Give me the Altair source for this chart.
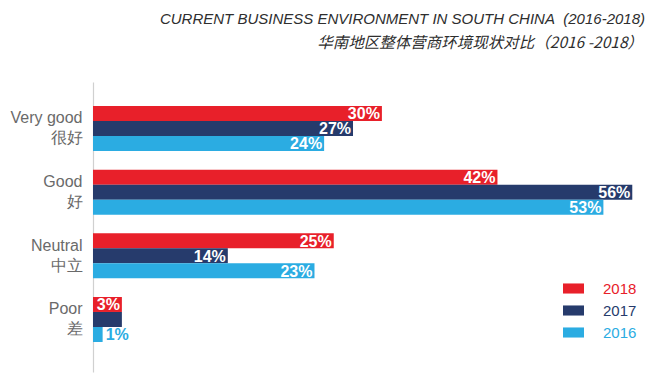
import altair as alt
import pandas as pd

categories = ["Very good|很好", "Good|好", "Neutral|中立", "Poor|差"]
years = ["2018", "2017", "2016"]
v2018 = [30, 42, 25, 3]
v2017 = [27, 56, 14, 3]
v2016 = [24, 53, 23, 1]
hidden_labels = [("Poor|差", "2017")]

title_en = "CURRENT BUSINESS ENVIRONMENT IN SOUTH CHINA\u00a0\u00a0(2016-2018)"
title_cn = "华南地区整体营商环境现状对比（2016 -2018）"

colors = ["#E8202A", "#263B6C", "#2BACE2"]

rows = []
for year, vals in zip(years, [v2018, v2017, v2016]):
    for cat, v in zip(categories, vals):
        rows.append({
            "category": cat,
            "year": year,
            "value": v,
            "label": f"{v}%",
            "show": (cat, year) not in hidden_labels,
        })
df = pd.DataFrame(rows)

FONT = "Liberation Sans"

y_enc = alt.Y(
    "category:N",
    sort=categories,
    scale=alt.Scale(paddingInner=0.293, paddingOuter=0.424, align=0.444),
    axis=alt.Axis(
        title=None,
        ticks=False,
        labelExpr="split(datum.label, '|')",
        labelLineHeight=20,
        labelFontSize=16,
        labelColor="#6a6a6a",
        labelFont=FONT,
        labelPadding=11,
        labelOffset=-10,
        domainColor="#d0d0d0",
        domainWidth=1.2,
        grid=False,
    ),
)
yoff = alt.YOffset("year:N", sort=years, scale=alt.Scale(paddingInner=0, paddingOuter=0))
x_enc = alt.X("value:Q", scale=alt.Scale(domain=[0, 57.84], nice=False, zero=True), axis=None)

label_color_expr = (
    "datum.label == '2018' ? '" + colors[0] + "' : datum.label == '2017' ? '"
    + colors[1] + "' : '" + colors[2] + "'"
)

base = alt.Chart(df)

bars = base.mark_bar(size=15).encode(
    x=x_enc,
    y=y_enc,
    yOffset=yoff,
    color=alt.Color(
        "year:N",
        sort=years,
        scale=alt.Scale(domain=years, range=colors),
        legend=alt.Legend(
            title=None,
            orient="none",
            legendX=470,
            legendY=196,
            symbolType="M-1,-0.48H1V0.48H-1Z",
            symbolSize=441,
            symbolStrokeWidth=0,
            labelFontSize=15,
            labelFont=FONT,
            labelOffset=19,
            rowPadding=3,
            padding=0,
            labelColor={"expr": label_color_expr},
        ),
    ),
)

inside = base.transform_filter(
    "datum.show && datum.value >= 2"
).mark_text(
    align="right", baseline="middle", dx=-2, dy=1, color="white",
    fontWeight="bold", fontSize=16, font=FONT,
).encode(x=x_enc, y=y_enc, yOffset=yoff, text="label:N")

outside = base.transform_filter(
    "datum.show && datum.value < 2"
).mark_text(
    align="left", baseline="middle", dx=3, dy=1, color=colors[2],
    fontWeight="bold", fontSize=16, font=FONT,
).encode(x=x_enc, y=y_enc, yOffset=yoff, text="label:N")

t1 = alt.Chart(pd.DataFrame({"t": [title_en]})).mark_text(
    align="right", baseline="alphabetic", fontStyle="italic", fontSize=15,
    font=FONT, color="#2e2e2e",
).encode(text="t:N", x=alt.value(552), y=alt.value(-58))

t2 = alt.Chart(pd.DataFrame({"t": [title_cn]})).mark_text(
    align="right", baseline="alphabetic", fontStyle="italic", fontSize=15.5,
    font="Noto Sans CJK SC", color="#2e2e2e",
).encode(text="t:N", x=alt.value(550), y=alt.value(-34))

chart = alt.layer(bars, inside, outside, t1, t2).properties(
    width=557,
    height=290,
    autosize=alt.AutoSizeParams(type="none"),
    padding={"left": 93, "top": 82, "right": 10, "bottom": 4},
    background="white",
).configure_view(stroke=None)

chart.save("out.html", embed_options={"renderer": "svg", "actions": False})
